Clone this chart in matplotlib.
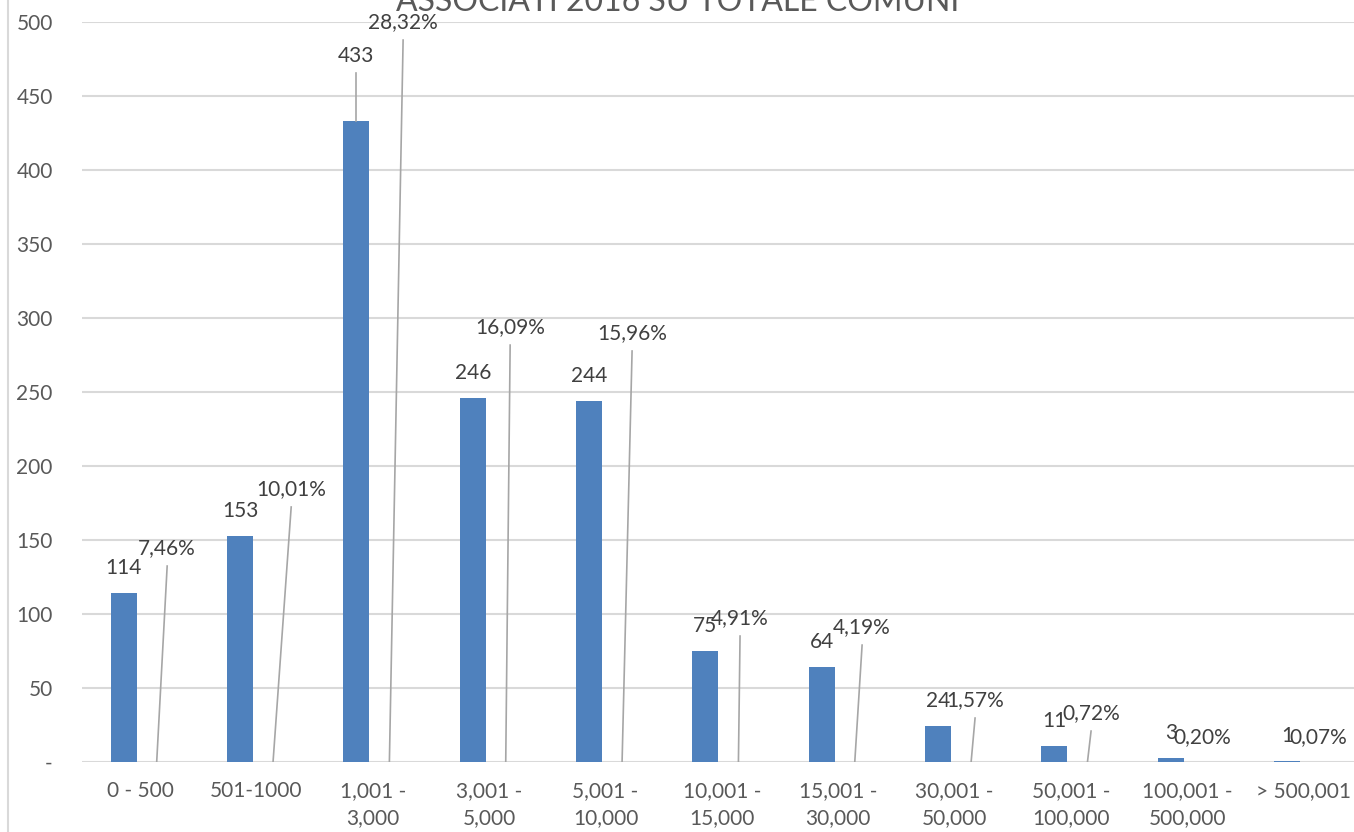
import matplotlib.pyplot as plt
import numpy as np

# Data
categories = ['0 - 500', '501-1000', '1,001 -\n3,000', '3,001 -\n5,000',
              '5,001 -\n10,000', '10,001 -\n15,000', '15,001 -\n30,000',
              '30,001 -\n50,000', '50,001 -\n100,000', '100,001 -\n500,000',
              '> 500,001']
counts = [114, 153, 433, 246, 244, 75, 64, 24, 11, 3, 1]
shares = [7.46, 10.01, 28.32, 16.09, 15.96, 4.91, 4.19, 1.57, 0.72, 0.20, 0.07]

# Label layout for the percentage labels (dragged by hand in the original)
pct_lbl_dx = [0.232, 0.298, 0.260, 0.180, 0.228, 0.156, 0.205, 0.176, 0.173, 0.127, 0.124]
pct_lbl_y = [144.6, 184.5, 500.0, 293.9, 289.9, 97.3, 91.2, 41.9, 33.1, 16.9, 16.9]

BLUE = '#4F81BD'
TXT = '#404040'
TICK = '#595959'
GRID = '#D9D9D9'
LEADER = '#A6A6A6'
FONT = 'Lato'
FS = 15

plt.rcParams['font.family'] = [FONT, 'DejaVu Sans']

fig = plt.figure(figsize=(13.54, 8.32), dpi=100)
W, H = 1354, 832
ax = fig.add_axes([82 / W, (H - 762) / H, (1361.8 - 82) / W, (762 - 22) / H])

x = np.arange(len(categories))
bw = 0.223
off = 0.142
ax.bar(x - off, counts, width=bw, color=BLUE, zorder=3)
# share series plotted as fractions on the same axis -> practically flat bars
ax.bar(x + off, [s / 100 for s in shares], width=bw, color='#C0504D', zorder=3)

ax.set_xlim(-0.5, 10.5)
ax.set_ylim(0, 500)

# grid and axes styling
yt = np.arange(0, 501, 50)
ax.set_yticks(yt)
ax.set_yticklabels(['-'] + [str(v) for v in yt[1:]])
for v in yt:
    ax.axhline(v, color=GRID, lw=1.5, zorder=1)
for s in ax.spines.values():
    s.set_visible(False)
ax.tick_params(axis='y', length=0, pad=21, labelsize=FS, labelcolor=TICK)
ax.set_xticks(x)
ax.set_xticklabels(categories, linespacing=1.4)
ax.tick_params(axis='x', length=0, pad=14, labelsize=FS, labelcolor=TICK)

# count labels
for i, c in enumerate(counts):
    if i == 2:
        ax.text(i - off, 477, str(c), ha='center', va='center', fontsize=FS, color=TXT, zorder=5)
        ax.plot([i - off, i - off], [465.5, c], color=LEADER, lw=1.2, zorder=4)
    else:
        ax.annotate(str(c), (i - off, c), xytext=(0, 18), textcoords='offset points',
                    ha='center', va='center', fontsize=FS, color=TXT, zorder=5)

# percentage labels with leader lines
for i, s in enumerate(shares):
    lx = i + pct_lbl_dx[i]
    ly = pct_lbl_y[i]
    lbl = f"{s:.2f}%".replace('.', ',')
    ax.text(lx, ly, lbl, ha='center', va='center', fontsize=FS, color=TXT, zorder=5)
    if ly > 25:
        ax.plot([i + off, lx], [0, ly - 12.2], color=LEADER, lw=1.2, zorder=4)

# title (cut off at the top in the original)
fig.text(678 / W, 1 - 11 / H, 'ASSOCIATI 2016 SU TOTALE COMUNI', ha='center',
         va='baseline', fontsize=23, color=TICK)

# chart frame line on the left
fig.add_artist(plt.Line2D([8 / W, 8 / W], [0, 1], color=GRID, lw=1.5))

fig.savefig('out.png', dpi=100)
